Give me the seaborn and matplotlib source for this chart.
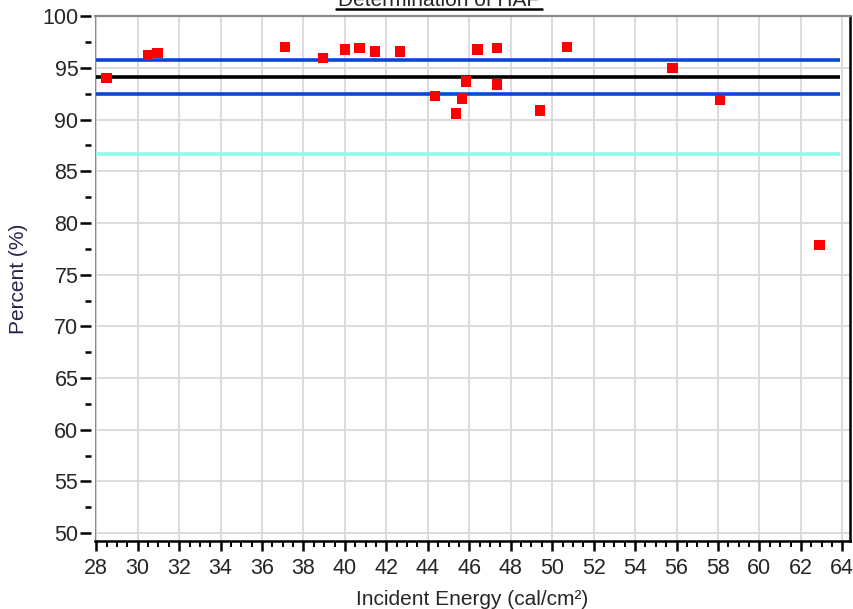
import matplotlib
matplotlib.use("Agg")
import matplotlib.pyplot as plt
from matplotlib import font_manager
import seaborn as sns
import pandas as pd
from matplotlib.lines import Line2D

# ---- data ----
energy = [28.5, 30.5, 30.95, 37.1, 38.95, 40.0, 40.7, 41.45, 42.65,
          44.35, 45.35, 45.65, 45.85, 46.4, 47.35, 47.35, 49.4, 50.7,
          55.8, 58.1, 62.9]
percent = [94.05, 96.25, 96.45, 97.0, 95.95, 96.8, 96.9, 96.6, 96.6,
           92.3, 90.6, 92.05, 93.7, 96.8, 96.9, 93.4, 90.9, 97.0,
           95.0, 91.9, 77.85]
mean_level = 94.17
upper_level = 95.78
lower_level = 92.53
limit_level = 86.65
x_ticks = list(range(28, 65, 2))
y_ticks = list(range(50, 101, 5))
title = "Determination of HAF"
xlabel = "Incident Energy (cal/cm²)"
ylabel = "Percent (%)"

df = pd.DataFrame({"energy": energy, "percent": percent})

sns.set_style("white")
installed = {f.name for f in font_manager.fontManager.ttflist}
narrow = "Liberation Sans Narrow" in installed
if narrow:
    plt.rcParams["font.family"] = ["Liberation Sans Narrow", "DejaVu Sans"]
    tick_fs, lab_fs, title_fs = 17, 16, 17
else:
    plt.rcParams["font.family"] = ["Liberation Sans", "DejaVu Sans"]
    tick_fs, lab_fs, title_fs = 15.5, 15, 15

fig = plt.figure(figsize=(8.54, 6.09), dpi=100)
ax = fig.add_axes([95/854, 1 - 541/609, (850-95)/854, (541-16)/609])

ax.set_xlim(27.94, 64.37)
ax.set_ylim(49.23, 100.03)

ax.set_xticks(x_ticks)
ax.set_xticks([v / 2 for v in range(56, 129)], minor=True)
ax.set_yticks(y_ticks)
ax.set_yticks([v + 2.5 for v in y_ticks[:-1]], minor=True)

ax.grid(True, which="major", color="#d9d9d9", linewidth=1.3)
ax.set_axisbelow(True)

# reference lines
x0, x1 = 28.0, 63.89
ax.hlines(limit_level, x0, x1, color="#8cfbe9", linewidth=2.6, zorder=2)
ax.hlines(upper_level, x0, x1, color="#0b45d8", linewidth=2.6, zorder=2)
ax.hlines(lower_level, x0, x1, color="#0b45d8", linewidth=2.6, zorder=2)
ax.hlines(mean_level, x0, x1, color="#000000", linewidth=2.6, zorder=2)

sns.scatterplot(data=df, x="energy", y="percent", marker="s", s=55,
                color="#ff0000", edgecolor="none", linewidth=0, ax=ax, zorder=3)

# spines
ax.spines["top"].set_color("#8a8a8a")
ax.spines["top"].set_linewidth(1.6)
ax.spines["right"].set_color("#000000")
ax.spines["right"].set_linewidth(1.8)
ax.spines["bottom"].set_color("#000000")
ax.spines["bottom"].set_linewidth(1.8)
ax.spines["left"].set_position(("outward", 3))
ax.spines["left"].set_visible(False)
ax.axvline(ax.get_xlim()[0], color="#8a8a8a", linewidth=1.6, zorder=1)

ax.tick_params(axis="y", which="major", direction="out", length=8, width=1.8,
               color="black", labelsize=tick_fs, pad=1, left=True)
ax.tick_params(axis="y", which="minor", direction="out", length=4.5, width=1.8,
               color="black", left=True)
ax.tick_params(axis="x", which="major", direction="out", length=7, width=1.8,
               color="black", labelsize=tick_fs, pad=5, bottom=True)
ax.tick_params(axis="x", which="minor", direction="out", length=4.5, width=1.4,
               color="black", bottom=True)

ax.set_xlabel(xlabel, fontsize=lab_fs, labelpad=8)
ax.set_ylabel(ylabel, fontsize=lab_fs, color="#22224a", labelpad=10)

# title (cropped at the top, underlined)
fig.text(439/854, 1 - 6/609, title, ha="center", va="baseline", fontsize=title_fs)
fig.add_artist(Line2D([336/854, 542/854], [1 - 9/609, 1 - 9/609],
                      color="black", linewidth=1.8, transform=fig.transFigure))

fig.savefig("out.png", dpi=100)
